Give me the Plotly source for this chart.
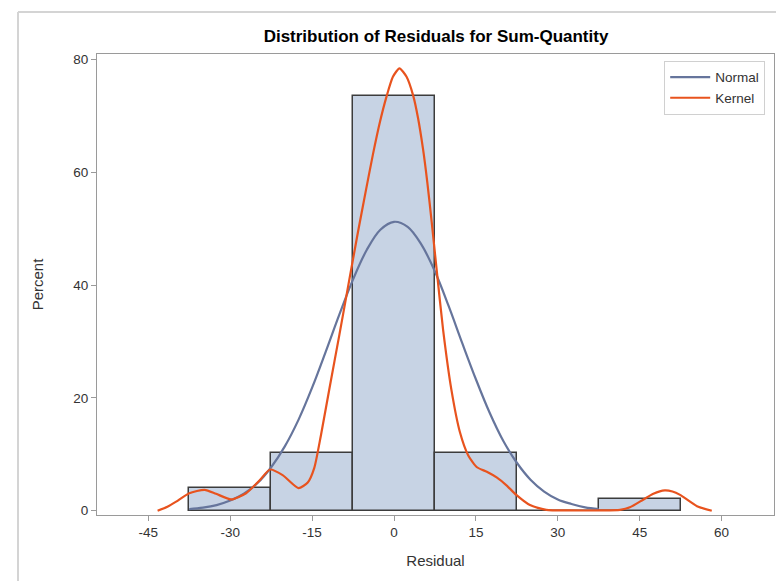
import plotly.graph_objects as go

# Histogram (percent per bin of width 15)
bin_centers = [-30, -15, 0, 15, 30, 45]
bin_percent = [4.08, 10.2, 73.5, 10.2, 0.0, 2.04]
bin_width = 15

# Normal density curve
normal_x = [-37.5, -35, -32.5, -30, -27.5, -25, -22.5, -20, -17.5, -15, -12.5, -10, -7.5, -5, -2.5,
            0, 2.5, 5, 7.5, 10, 12.5, 15, 17.5, 20, 22.5, 25, 27.5, 30, 32.5, 35, 37.5]
normal_y = [0.28, 0.54, 1.0, 1.8, 3.0, 4.9, 7.7, 11.4, 16.1, 21.8, 28.2, 34.8, 41.0, 46.2, 49.8,
            51.2, 50.3, 47.2, 42.4, 36.3, 29.7, 23.3, 17.4, 12.4, 8.5, 5.5, 3.4, 2.0, 1.2, 0.6, 0.3]

# Kernel density curve
kernel_x = [-43.3, -41.5, -39.9, -37.5, -34.7, -32.6, -29.8, -27.1, -24.6, -22.7, -20.4, -17.5,
            -15.8, -14.6, -13.4, -11.8, -10.0, -8.4, -6.6, -5.2, -3.85, -2.6, -1.4, -0.2, 1.0,
            2.3, 3.5, 4.4, 5.3, 6.1, 6.9, 7.8, 9.0, 10.5, 12.05, 13.6, 15.2, 17.0, 18.8, 20.6,
            22.4, 24.9, 27.9, 32.0, 38.0, 41.4, 43.2, 45.7, 47.5, 49.6, 51.0, 52.4, 55.5, 58.2]
kernel_y = [0.0, 0.7, 1.6, 3.1, 3.7, 3.0, 2.0, 3.1, 5.4, 7.3, 6.3, 4.0,
            5.0, 7.6, 13.3, 21.8, 31.2, 39.8, 49.4, 56.5, 63.2, 68.8, 73.3, 76.9, 78.4,
            76.9, 73.6, 69.6, 64.2, 58.2, 51.2, 42.8, 32.0, 21.5, 14.0, 9.8, 7.7, 6.9, 5.9, 4.5,
            2.8, 1.0, 0.15, 0.05, 0.05, 0.15, 0.6, 2.0, 3.0, 3.6, 3.4, 2.8, 0.8, 0.0]

x_ticks = [-45, -30, -15, 0, 15, 30, 45, 60]
y_ticks = [0, 20, 40, 60, 80]

FONT = "Liberation Sans, Arial, sans-serif"

fig = go.Figure()
fig.add_trace(go.Bar(
    x=bin_centers, y=bin_percent, width=[bin_width] * len(bin_centers),
    marker=dict(color="#c7d3e4", line=dict(color="#3c3c3c", width=1.5)),
    showlegend=False, hoverinfo="x+y"))
fig.add_trace(go.Scatter(
    x=normal_x, y=normal_y, mode="lines", name="Normal",
    line=dict(color="#66759c", width=2.2, shape="spline", smoothing=1.0)))
fig.add_trace(go.Scatter(
    x=kernel_x, y=kernel_y, mode="lines", name="Kernel",
    line=dict(color="#e8531e", width=2.2, shape="spline", smoothing=0.6)))

W, H = 776, 581
L, R, T, B = 97, 2, 54, 66
pw, ph = W - L - R, H - T - B

def px_to_paper_x(px):
    return (px - L) / pw

def px_to_paper_y(py):
    return (H - B - py) / ph

# outer graph frame (light grey)
fx = px_to_paper_x(18)
fy = px_to_paper_y(12)
shapes = [
    dict(type="line", xref="paper", yref="paper", x0=fx, x1=fx, y0=fy, y1=px_to_paper_y(590),
         line=dict(color="#d4d4d4", width=2)),
    dict(type="line", xref="paper", yref="paper", x0=fx, x1=px_to_paper_x(780), y0=fy, y1=fy,
         line=dict(color="#d4d4d4", width=2)),
]

fig.update_layout(
    width=W, height=H,
    margin=dict(l=L, r=R, t=T, b=B),
    paper_bgcolor="white", plot_bgcolor="white",
    font=dict(family=FONT, size=14, color="#333333"),
    title=dict(text="<b>Distribution of Residuals for Sum-Quantity</b>",
               x=px_to_paper_x(436), xref="paper", xanchor="center",
               y=1 - 36 / H, yanchor="middle",
               font=dict(family=FONT, size=17, color="#000000")),
    bargap=0,
    shapes=shapes,
    legend=dict(x=0.987, y=0.985, xanchor="right", yanchor="top",
                bordercolor="#d0d0d0", borderwidth=1, bgcolor="white",
                font=dict(family=FONT, size=13.5, color="#333333"),
                tracegroupgap=0, itemwidth=40),
    showlegend=True,
)
fig.update_xaxes(
    range=[-54.4, 69.6], tickvals=x_ticks, ticktext=[str(v) for v in x_ticks],
    ticks="outside", ticklen=5, tickcolor="#9a9a9a", showgrid=False, zeroline=False,
    showline=True, linecolor="#9a9a9a", linewidth=1, mirror=True,
    title=dict(text="Residual", font=dict(family=FONT, size=15, color="#333333"), standoff=16),
    tickfont=dict(family=FONT, size=13.5, color="#333333"))
fig.update_yaxes(
    range=[-0.76, 80.94], tickvals=y_ticks, ticktext=[str(v) for v in y_ticks],
    ticks="outside", ticklen=5, tickcolor="#9a9a9a", showgrid=False, zeroline=False,
    showline=True, linecolor="#9a9a9a", linewidth=1, mirror=True,
    title=dict(text="Percent", font=dict(family=FONT, size=15, color="#333333"), standoff=26),
    tickfont=dict(family=FONT, size=13.5, color="#333333"))

fig.write_html("out.html", config={"displayModeBar": False},
               post_script="document.body.style.margin='0';document.body.style.overflow='hidden';")
